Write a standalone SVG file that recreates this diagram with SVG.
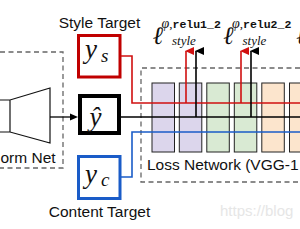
<svg xmlns="http://www.w3.org/2000/svg" width="300" height="229" viewBox="0 0 300 229">
<defs>
<style>
.lbl{font-family:"Liberation Sans",Arial,sans-serif;font-size:15.5px;fill:#111}
.dash{fill:none;stroke:#666;stroke-width:1.3;stroke-dasharray:5 3.5}
.math{font-family:"Liberation Serif","DejaVu Serif",serif;font-style:italic;fill:#111}
.rm{font-family:"Liberation Serif","DejaVu Serif",serif;font-style:normal}
.mono{font-family:"Liberation Mono","DejaVu Sans Mono",monospace;font-weight:bold;font-style:normal;font-size:11.5px}
.blk{stroke:#222;stroke-width:1}
.purple{fill:#dcd6ec}
.green{fill:#d9ead3}
.orange{fill:#fce5cd}
.red{stroke:#d01010;fill:none;stroke-width:1.6}
.black{stroke:#000;fill:none;stroke-width:1.6}
.blue{stroke:#1a5cc8;fill:none;stroke-width:1.6}
</style>
<marker id="ahRed" markerWidth="8" markerHeight="9" refX="4" refY="1" orient="auto-start-reverse" markerUnits="userSpaceOnUse" viewBox="0 0 8 9"><path d="M0,9 L4,0 L8,9 Z" fill="#d01010"/></marker>
<marker id="ahBlack" markerWidth="8" markerHeight="9" refX="4" refY="1" orient="auto-start-reverse" markerUnits="userSpaceOnUse" viewBox="0 0 8 9"><path d="M0,9 L4,0 L8,9 Z" fill="#000"/></marker>
</defs>
<rect width="300" height="229" fill="#fff"/>

<g id="transform-net">
<path class="dash" d="M0,52 H63 V168 H0"/>
<path d="M-2,100 H10 L50,88 V143 L10,132 H-2 M10,100 V132" fill="none" stroke="#111" stroke-width="1.2"/>
<text class="lbl" x="0.5" y="163">orm Net</text>
</g>

<g id="loss-network">
<path class="dash" d="M300,68 H141 V182 H300"/>
<rect class="blk purple" x="152" y="83" width="22.5" height="69"/>
<rect class="blk purple" x="179.3" y="83" width="22.5" height="69"/>
<rect class="blk green" x="206.8" y="83" width="22.5" height="69"/>
<rect class="blk green" x="234.3" y="83" width="22.5" height="69"/>
<rect class="blk orange" x="261.8" y="83" width="22.5" height="69"/>
<rect class="blk orange" x="289.5" y="83" width="22.5" height="69"/>
<text class="lbl" x="147" y="170">Loss Network (VGG-1</text>
</g>

<g id="style-target">
<text class="lbl" x="99.5" y="28" text-anchor="middle">Style Target</text>
<rect x="78.5" y="35.5" width="41.5" height="41.5" fill="#fff" stroke="#c00000" stroke-width="3"/>
<text class="math" x="85" y="58" font-size="27">y<tspan x="101" y="62" font-size="19">s</tspan></text>
</g>

<g id="y-hat">
<rect x="80" y="96" width="39" height="37" fill="#fff" stroke="#000" stroke-width="4"/>
<text class="math" x="89.5" y="126" font-size="27">ŷ</text>
</g>

<g id="content-target">
<rect x="78.5" y="156.5" width="41.5" height="42" fill="#fff" stroke="#1a5cc8" stroke-width="3"/>
<text class="math" x="85" y="183" font-size="27">y<tspan x="101" y="186" font-size="19">c</tspan></text>
<text class="lbl" x="99.5" y="217" text-anchor="middle">Content Target</text>
</g>

<g id="connectors">
<path d="M50,117 H71" stroke="#000" stroke-width="1.3" fill="none"/>
<path d="M78,117 L70,113.5 L70,120.5 Z" fill="#000"/>
<path class="red" d="M121,56 H132 V103 H300"/>
<path class="black" d="M121,117 H300"/>
<path class="blue" d="M121,177 H132 V132 H300"/>
<line class="red" x1="186" y1="103" x2="186" y2="51" marker-end="url(#ahRed)"/>
<line class="black" x1="196" y1="117" x2="196" y2="51" marker-end="url(#ahBlack)"/>
<line class="red" x1="241" y1="103" x2="241" y2="51" marker-end="url(#ahRed)"/>
<line class="black" x1="251" y1="117" x2="251" y2="51" marker-end="url(#ahBlack)"/>
</g>

<g id="loss-label-1">
<text class="math" x="152.5" y="44" font-size="25">ℓ<tspan x="161.5" y="28" font-size="14">φ</tspan><tspan class="rm" font-size="13">,</tspan><tspan class="mono">relu1_2</tspan><tspan x="172" y="44.5" font-size="13">style</tspan></text>
</g>
<g id="loss-label-2">
<text class="math" x="223" y="44" font-size="25">ℓ<tspan x="232" y="28" font-size="14">φ</tspan><tspan class="rm" font-size="13">,</tspan><tspan class="mono">relu2_2</tspan><tspan x="242.5" y="44.5" font-size="13">style</tspan></text>
</g>
<g id="loss-label-3">
<text class="math" x="296" y="44" font-size="25">ℓ</text>
</g>

<text x="220" y="216" font-family="Liberation Sans,Arial,sans-serif" font-size="15" fill="#e6e6e6">https://blog</text>
</svg>
